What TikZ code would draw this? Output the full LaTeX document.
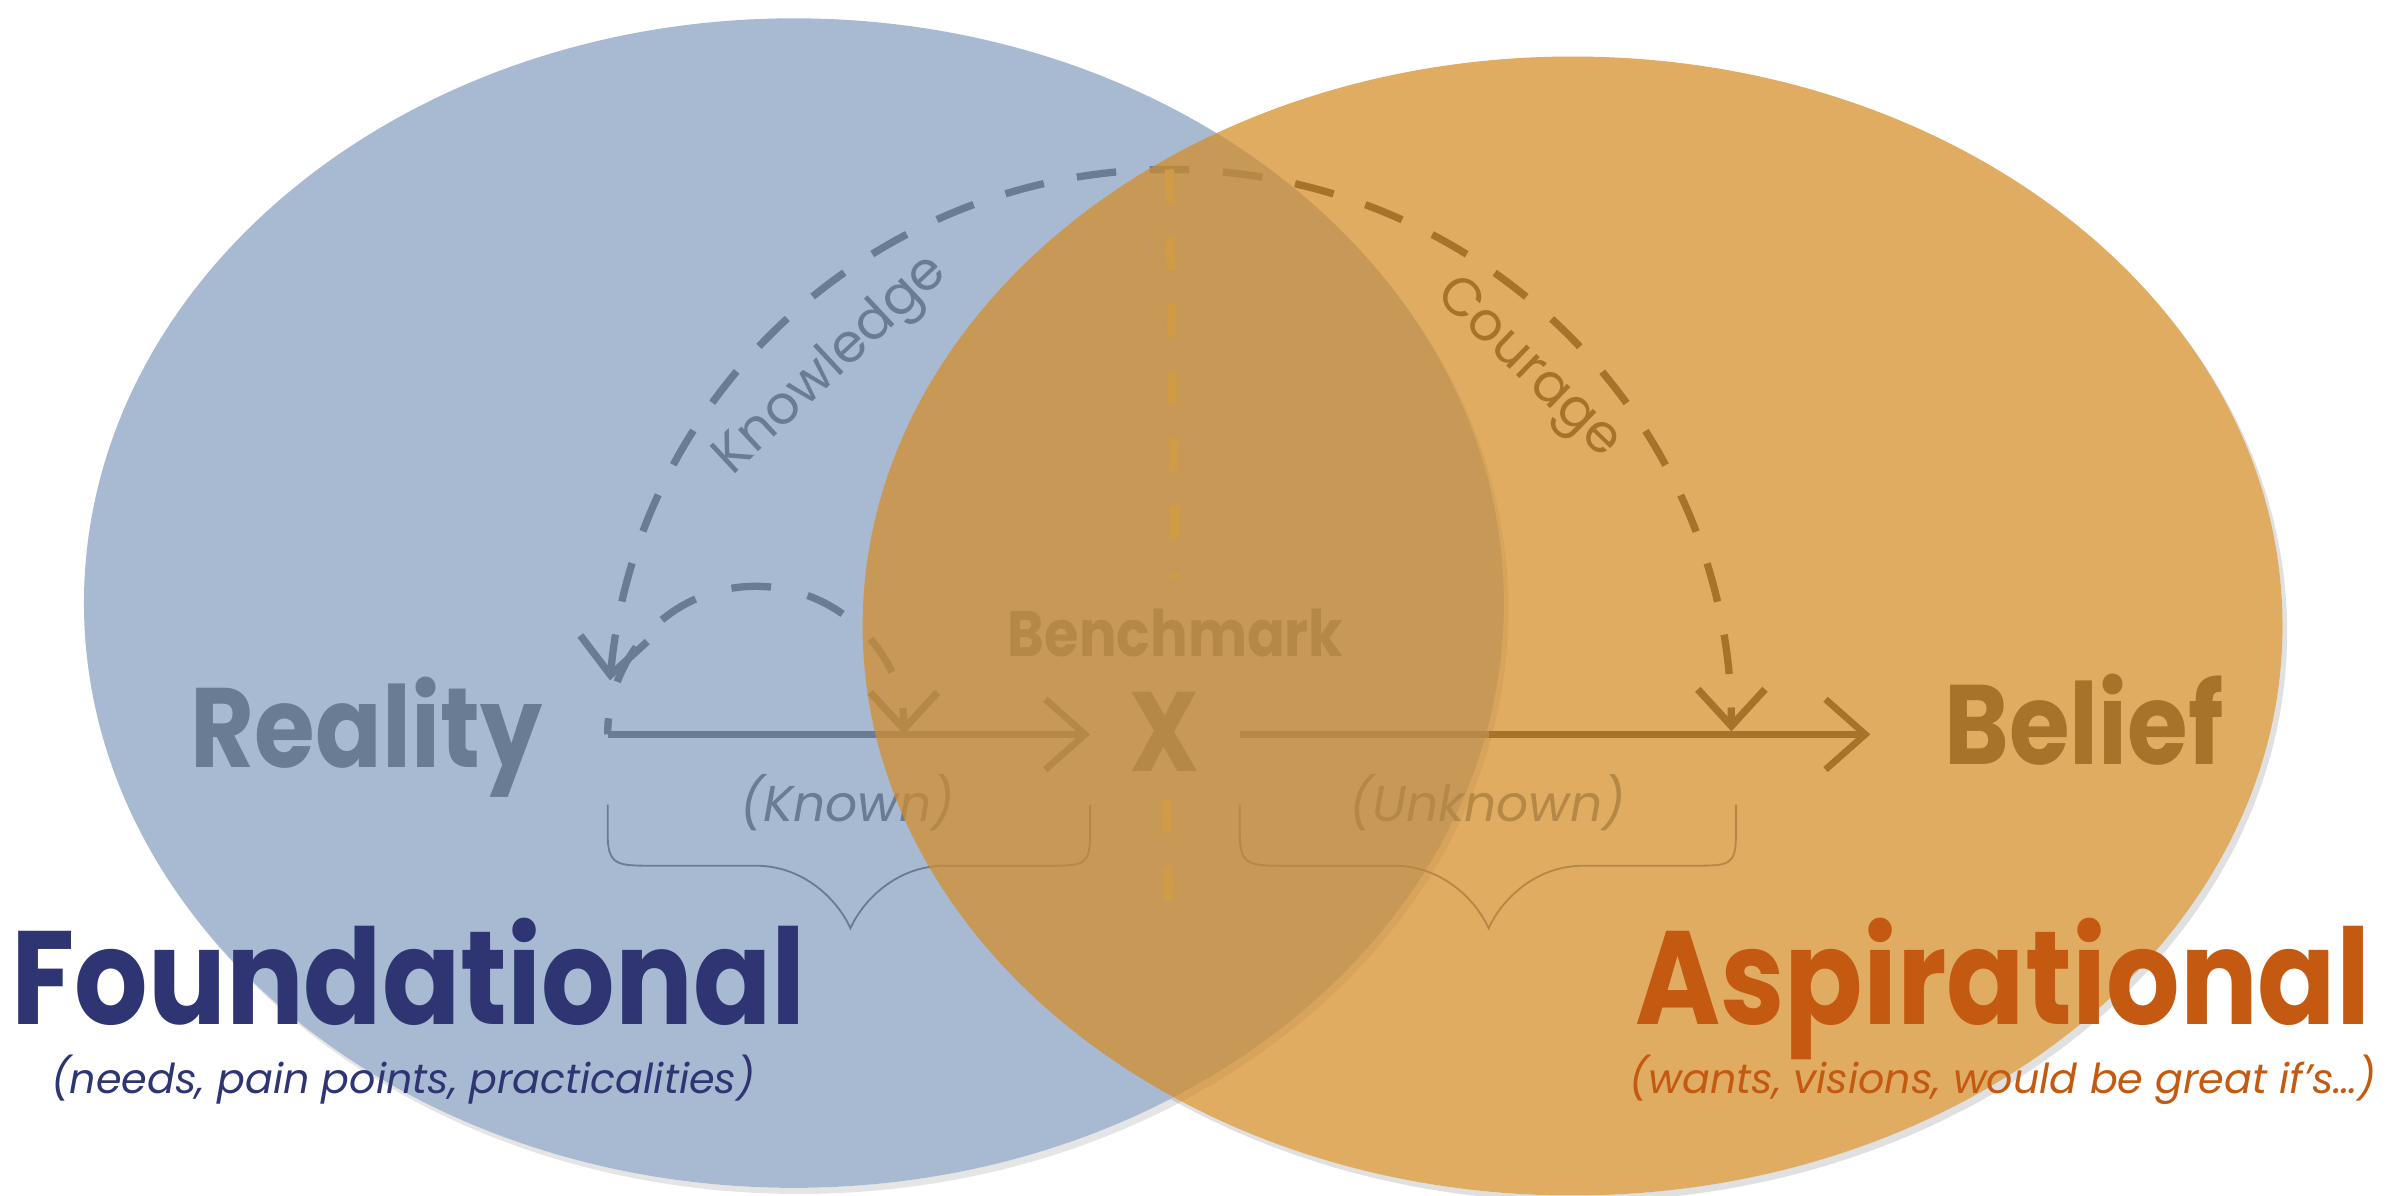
\documentclass[tikz,border=0pt]{standalone}
\usepackage{fontspec}
\setmainfont{Poppins}[BoldFeatures={FakeStretch=0.87}]
\usetikzlibrary{arrows.meta}
\usepackage{xcolor}

\definecolor{bluefill}{RGB}{168,185,210}
\definecolor{orangefill}{RGB}{211,141,40}
\definecolor{inkgray}{RGB}{106,123,148}
\definecolor{inkbrown}{RGB}{166,115,42}
\definecolor{markline}{RGB}{207,156,69}
\definecolor{navy}{RGB}{46,53,114}
\definecolor{rust}{RGB}{196,90,17}

\begin{document}
\begin{tikzpicture}[x=0.5pt, y=-0.5pt,
	bigword/.style={font=\bfseries\fontsize{37}{40}\selectfont, inner sep=0pt, anchor=base},
	midword/.style={font=\bfseries\fontsize{21}{24}\selectfont, inner sep=0pt, anchor=base},
	arcword/.style={font=\fontsize{17.5}{21}\selectfont, inner sep=0pt},
	noteword/.style={font=\itshape\fontsize{16.5}{20}\selectfont, inner sep=0pt, anchor=base},
	titleword/.style={font=\bfseries\fontsize{43.5}{48}\selectfont, inner sep=0pt},
	subword/.style={font=\itshape\fontsize{13.5}{16}\selectfont, inner sep=0pt, anchor=base},
	flow/.style={line width=2.2pt, -{Straight Barb[length=13pt,width=23pt]}},
	dasharc/.style={line width=2.4pt, dash pattern=on 13pt off 11pt, dash phase=6.5pt, -{Straight Barb[length=12pt,width=22pt]}},
	markdash/.style={line width=3pt, markline, dash pattern=on 11pt off 11pt},
	bracket/.style={line width=0.6pt, inkgray}]
	
	% canvas
	\useasboundingbox (0,0) rectangle (1568,783.3);
	
	%circle shadows (outside the circles only)
	\begin{scope}[even odd rule]
		\clip (0,0) rectangle (1568,783.3) (520,395) ellipse [x radius=232.5pt, y radius=191.5pt];
		\fill[black, opacity=0.1] (523,399) ellipse [x radius=232.5pt, y radius=191.5pt];
	\end{scope}
	\begin{scope}[even odd rule]
		\clip (0,0) rectangle (1568,783.3) (1030,410) ellipse [x radius=232.5pt, y radius=186.5pt];
		\fill[black, opacity=0.12] (1033,414) ellipse [x radius=232.5pt, y radius=186.5pt];
	\end{scope}
	
	%foundational circle
	\fill[bluefill] (520,395) ellipse [x radius=232.5pt, y radius=191.5pt];
	
	%known side (under the orange circle)
	\node[bigword, inkgray] (reality) at (240,503) {Reality};
	\node[arcword, inkgray, rotate=43] (knowledge) at (545,240) {Knowledge};
	\node[midword, inkgray] (benchmark) at (770,430) {Benchmark};
	\node[bigword, inkgray] (benchx) at (763,505) {X};
	\node[noteword, inkgray] (known) at (555,538) {(Known)};
	\node[noteword, inkgray] (unknown) at (974,538) {(Unknown)};
	
	\coordinate (apex) at (766,111);
	\coordinate (knownstart) at (398,481);
	\coordinate (knownend) at (714,481);
	\coordinate (unknownstart) at (812,481);
	\coordinate (blueedge) at (975,481);
	\coordinate (unknownend) at (1225,481);
	\coordinate (markfoot) at (766,607);
	
	\draw[flow, inkgray] (knownstart) -- (knownend);
	\draw[inkgray, line width=2.2pt] (unknownstart) -- (blueedge);
	\draw[dasharc, inkgray, dash pattern=on 13pt off 12.3pt, dash phase=7.7pt] (knownstart) arc[start angle=180, end angle=0, radius=48.5pt];
	\draw[dasharc, inkgray] (apex) arc[start angle=90, end angle=174.8, radius=184pt];
	\draw[dasharc, inkgray, -] (apex) arc[start angle=90, end angle=78.2, radius=184pt] coordinate (courageedge);
	
	%braces
	\draw[bracket] (398,527) -- (398,546) .. controls (398,567) and (404,567) .. (428,567) -- (495,567) .. controls (527,567) and (549,590) .. (557,608) .. controls (565,590) and (587,567) .. (619,567) -- (686,567) .. controls (710,567) and (714,567) .. (714,546) -- (714,527);
	\draw[bracket] (812,527) -- (812,546) .. controls (812,567) and (818,567) .. (842,567) -- (913,567) .. controls (945,567) and (967,590) .. (975,608) .. controls (983,590) and (1005,567) .. (1037,567) -- (1109,567) .. controls (1133,567) and (1137,567) .. (1137,546) -- (1137,527);
	
	%aspirational circle
	\fill[orangefill, opacity=0.73] (1030,410) ellipse [x radius=232.5pt, y radius=186.5pt];
	
	%benchmark line
	\draw[markdash, shorten >=10pt] (apex) -- (benchmark.north);
	\draw[markdash, shorten <=9pt] (benchx.south) -- (markfoot);
	
	%unknown side (over the orange circle)
	\draw[dasharc, inkbrown, dash phase=20.4pt] (courageedge) arc[start angle=78.2, end angle=0, radius=184pt];
	\draw[flow, inkbrown] (blueedge) -- (unknownend);
	\node[arcword, inkbrown, rotate=-44] (courage) at (1000,242) {Courage};
	\node[bigword, inkbrown] (belief) at (1365,501) {Belief};
	
	%titles
	\node[titleword, navy, anchor=base west] (foundational) at (7,671) {Foundational};
	\node[subword, navy] (needs) at (264,716) {(needs, pain points, practicalities)};
	\node[titleword, rust, anchor=base east] (aspirational) at (1553,671) {Aspirational};
	\node[subword, rust] (wants) at (1312,716) {(wants, visions, would be great if’s…)};
	
\end{tikzpicture}
\end{document}
